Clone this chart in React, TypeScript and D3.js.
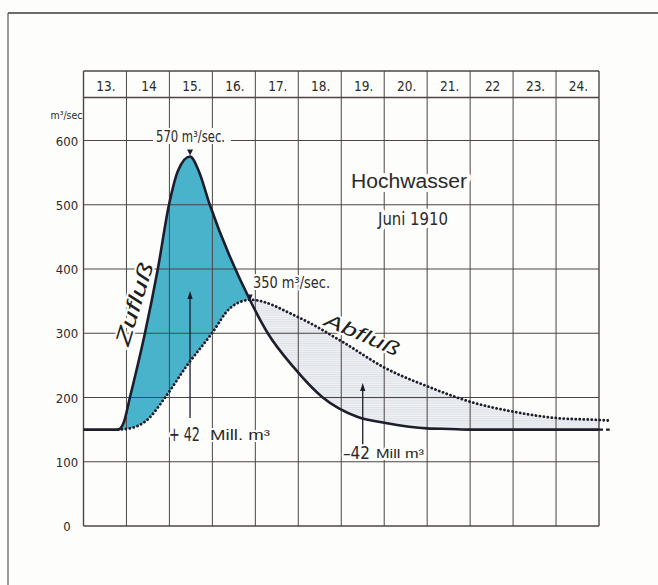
import React from 'react';
import * as d3 from 'd3';

// ---- data ----
const dayLabels = ['13.', '14', '15.', '16.', '17.', '18.', '19.', '20.', '21.', '22', '23.', '24.'];
const yTicks = [0, 100, 200, 300, 400, 500, 600];

// Zufluß (inflow), day of June 1910 (continuous) and m³/sec
const zuflussT = [13, 13.8, 13.93, 14.08, 14.43, 14.73, 14.99, 15.2, 15.48, 15.68, 15.94, 16.88, 17.29, 17.88, 18.57, 19.37, 20.07, 21.0, 21.53, 22.0, 25.0, 25.25];
const zuflussV = [150, 150, 160, 200, 300, 400, 500, 553, 575, 553, 500, 351, 300, 248, 200, 170, 160, 152, 151, 150, 150, 150];

// Abfluß (outflow)
const abflussT = [13.8, 14.08, 14.48, 14.9, 15.41, 15.99, 16.41, 16.88, 18.0, 19.02, 20.02, 21.02, 22.02, 23.0, 24.02, 25.0, 25.25];
const abflussV = [150, 152, 165, 200, 250, 300, 339, 352, 325, 287, 246, 217, 193, 178, 168, 165, 164];

const peakDay = 15.48;
const peakValue = 575;
const crossDay = 16.88;
const crossValue = 351;

const FONT = "'Liberation Sans Narrow', 'DejaVu Sans Condensed', 'Liberation Sans', Arial, sans-serif";
const FONT_REG = "'Liberation Sans', Arial, sans-serif";

export default function App() {
  const W = 658, H = 585;
  const x = d3.scaleLinear().domain([13, 25]).range([83.5, 599]);
  const y = d3.scaleLinear().domain([0, 600]).range([526, 140.5]);
  const headerTop = 71;
  const plotTop = 97.5;

  const zData = zuflussT.map((t, i) => ({ t, v: zuflussV[i] }));
  const aData = abflussT.map((t, i) => ({ t, v: abflussV[i] }));

  const curve = d3.curveMonotoneX;
  const line = d3.line<{ t: number; v: number }>().x(d => x(d.t)).y(d => y(d.v)).curve(curve);
  const areaUnder = d3.area<{ t: number; v: number }>().x(d => x(d.t)).y0(y(0)).y1(d => y(d.v)).curve(curve);
  const areaAbove = d3.area<{ t: number; v: number }>().x(d => x(d.t)).y0(plotTop).y1(d => y(d.v)).curve(curve);

  const zIn = zData.filter(d => d.t <= 25);
  const zOut = zData.filter(d => d.t >= 25);
  const aIn = aData.filter(d => d.t <= 25);

  const gridColor = '#4d4545';
  const ink = '#1d1d2b';

  const colEdges = d3.range(13, 26);
  const gridVals = yTicks.filter(v => v > 0);

  const arrowHead = (cx: number, tipY: number) =>
    `M${cx - 2.6},${tipY + 8} L${cx},${tipY} L${cx + 2.6},${tipY + 8} Z`;

  const halo = { paintOrder: 'stroke' as const, stroke: '#fdfdfb', strokeWidth: 4, strokeLinejoin: 'round' as const };

  const px = x(peakDay), py = y(peakValue);
  const cx = x(crossDay), cy = y(crossValue);

  return (
    <svg width={W} height={H} viewBox={`0 0 ${W} ${H}`} style={{ position: 'absolute', left: 0, top: 0, display: 'block', background: '#fdfdfb' }}>
      <defs>
        <clipPath id="aboveA"><path d={areaAbove(aData) || ''} /></clipPath>
        <clipPath id="aboveZ"><path d={areaAbove(zIn) || ''} /></clipPath>
        <pattern id="hatch" width="4" height="2.2" patternUnits="userSpaceOnUse">
          <rect width="4" height="2.2" fill="#f0f2f5" />
          <line x1="0" y1="0.6" x2="4" y2="0.6" stroke="#d9dee5" strokeWidth="0.9" />
        </pattern>
      </defs>
      <rect width={W} height={H} fill="#fdfdfb" />

      {/* page frame (top & left) */}
      <line x1={8} y1={13} x2={W} y2={13} stroke="#3a3a3a" strokeWidth={1.6} />
      <line x1={8} y1={13} x2={8} y2={H} stroke="#5a5a5a" strokeWidth={1.2} />

      {/* fills */}
      <path d={areaUnder(zData) || ''} fill="#48b3ca" clipPath="url(#aboveA)" />
      <path d={areaUnder(aIn) || ''} fill="url(#hatch)" clipPath="url(#aboveZ)" />

      {/* grid */}
      {gridVals.map(v => (
        <line key={'h' + v} x1={x(13)} x2={x(25)} y1={y(v)} y2={y(v)} stroke={gridColor} strokeWidth={1} />
      ))}
      <line x1={x(13)} x2={x(25)} y1={plotTop} y2={plotTop} stroke={gridColor} strokeWidth={1.3} />
      <line x1={x(13)} x2={x(25)} y1={headerTop} y2={headerTop} stroke={gridColor} strokeWidth={1.3} />
      <line x1={x(13)} x2={x(25)} y1={y(0)} y2={y(0)} stroke={gridColor} strokeWidth={1.4} />
      {colEdges.map(d => (
        <line key={'v' + d} x1={x(d)} x2={x(d)} y1={headerTop} y2={y(0)} stroke={gridColor} strokeWidth={d === 13 || d === 25 ? 1.4 : 1} />
      ))}

      {/* header day labels */}
      {dayLabels.map((lab, i) => (
        <text key={lab + i} x={x(13 + i + 0.5) + 1} y={91} fontFamily={FONT} fontSize={13.5} textAnchor="middle" fill="#2a2a2a">{lab}</text>
      ))}

      {/* y labels */}
      {yTicks.map(v => (
        <text key={'t' + v} x={67} y={y(v) + 5} fontFamily={FONT} fontSize={13} textAnchor="middle" fill="#2a2a2a">{v}</text>
      ))}
      <text x={50.5} y={119} fontFamily={FONT} fontSize={11} fill="#2a2a2a" textLength={32} lengthAdjust="spacingAndGlyphs">m³/sec</text>

      {/* title */}
      <text x={351} y={188} fontFamily={FONT_REG} fontSize={20} fill="#2a2a2a" textLength={116} lengthAdjust="spacingAndGlyphs" style={{ ...halo, strokeWidth: 8 }}>Hochwasser</text>
      <text x={378} y={225} fontFamily={FONT} fontSize={17} fill="#2a2a2a" textLength={70} lengthAdjust="spacingAndGlyphs" style={{ ...halo, strokeWidth: 8 }}>Juni 1910</text>

      {/* peak label */}
      <rect x={153} y={128} width={78} height={16} fill="#fdfdfb" />
      <text x={156} y={141.5} fontFamily={FONT} fontSize={15} fill="#2a2a2a" textLength={69} lengthAdjust="spacingAndGlyphs">570 m³/sec.</text>

      {/* crossing label */}
      <text x={253} y={288} fontFamily={FONT} fontSize={15.5} fill="#2a2a2a" textLength={77} lengthAdjust="spacingAndGlyphs" style={halo}>350 m³/sec.</text>

      {/* curve names */}
      <text transform="translate(141,306) rotate(-73)" fontFamily={FONT_REG} fontStyle="italic" fontSize={21} textAnchor="middle" fill="#1f1f1f" textLength={86} lengthAdjust="spacingAndGlyphs" style={halo}>Zufluß</text>
      <text transform="translate(323,325) rotate(23)" fontFamily={FONT_REG} fontStyle="italic" fontSize={19} fill="#1f1f1f" textLength={80} lengthAdjust="spacingAndGlyphs" style={halo}>Abfluß</text>

      {/* volume annotations */}
      <line x1={x(15.48)} x2={x(15.48)} y1={418} y2={294} stroke={ink} strokeWidth={1.3} />
      <path d={arrowHead(x(15.48), 291)} fill={ink} />
      <text x={169} y={440.5} fontFamily={FONT} fontSize={20} fill="#2a2a2a" textLength={31} lengthAdjust="spacingAndGlyphs" style={halo}>+ 42</text>
      <text x={210} y={440} fontFamily={FONT_REG} fontSize={14} fill="#2a2a2a" textLength={60} lengthAdjust="spacingAndGlyphs" style={halo}>Mill. m³</text>

      <line x1={x(19.5)} x2={x(19.5)} y1={446} y2={386} stroke={ink} strokeWidth={1.3} />
      <path d={arrowHead(x(19.5), 383)} fill={ink} />
      <text x={343} y={459} fontFamily={FONT} fontSize={18} fill="#2a2a2a" textLength={27} lengthAdjust="spacingAndGlyphs" style={halo}>–42</text>
      <text x={376} y={458} fontFamily={FONT_REG} fontSize={13} fill="#2a2a2a" textLength={48} lengthAdjust="spacingAndGlyphs" style={halo}>Mill m³</text>

      {/* curves */}
      <path d={line(aData) || ''} fill="none" stroke={ink} strokeWidth={2.8} strokeDasharray="0.1 3.9" strokeLinecap="round" />
      <path d={line(zIn) || ''} fill="none" stroke={ink} strokeWidth={2.6} strokeLinejoin="round" />
      <path d={line(zOut) || ''} fill="none" stroke={ink} strokeWidth={2.2} strokeDasharray="4 3" />

      {/* markers */}
      <path d={`M${px - 3},${py - 7} L${px + 3},${py - 7} L${px},${py - 1} Z`} fill={ink} />
      <path d={`M${cx - 3.5},${cy - 6} L${cx + 2.5},${cy - 6} L${cx},${cy} Z`} fill={ink} />
    </svg>
  );
}
